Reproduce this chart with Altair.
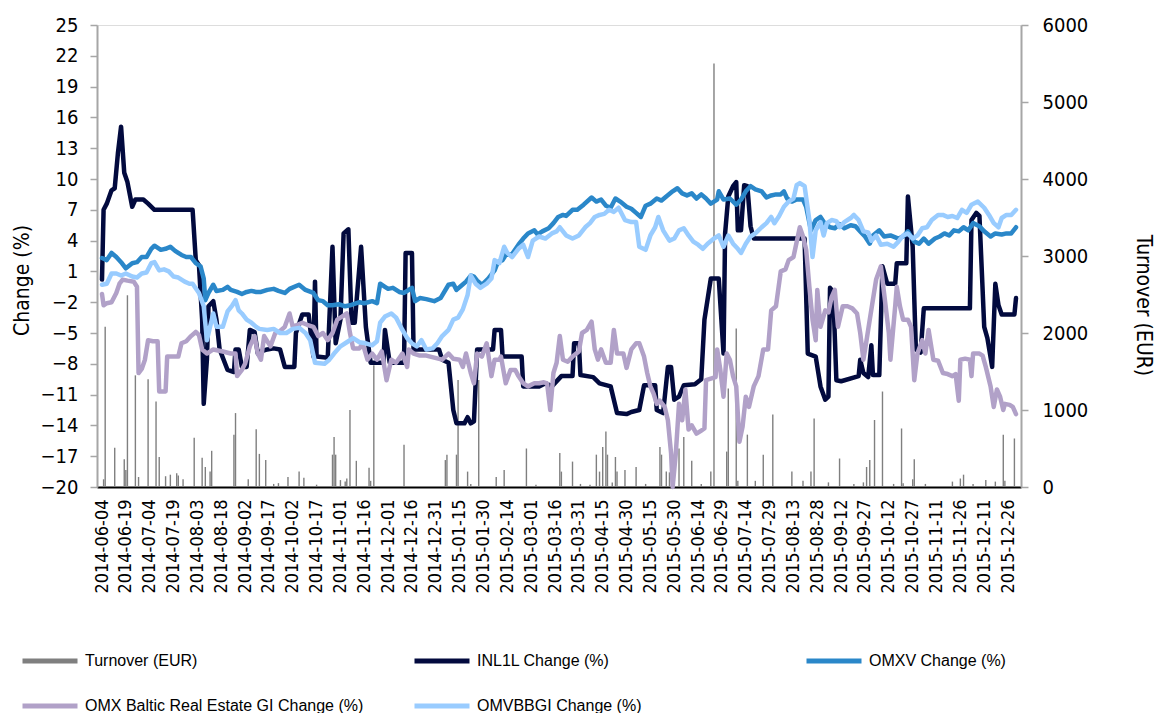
import altair as alt
import pandas as pd

START = "2014-06-04"
END = "2015-12-31"

tick_labels = [
    "2014-06-04", "2014-06-19", "2014-07-04", "2014-07-19", "2014-08-03", "2014-08-18",
    "2014-09-02", "2014-09-17", "2014-10-02", "2014-10-17", "2014-11-01", "2014-11-16",
    "2014-12-01", "2014-12-16", "2014-12-31", "2015-01-15", "2015-01-30", "2015-02-14",
    "2015-03-01", "2015-03-16", "2015-03-31", "2015-04-15", "2015-04-30", "2015-05-15",
    "2015-05-30", "2015-06-14", "2015-06-29", "2015-07-14", "2015-07-29", "2015-08-13",
    "2015-08-28", "2015-09-12", "2015-09-27", "2015-10-12", "2015-10-27", "2015-11-11",
    "2015-11-26", "2015-12-11", "2015-12-26",
]
left_ticks = [-20, -17, -14, -11, -8, -5, -2, 1, 4, 7, 10, 13, 16, 19, 22, 25]
right_ticks = [0, 1000, 2000, 3000, 4000, 5000, 6000]

S_TURN = "Turnover (EUR)"
S_INL = "INL1L Change (%)"
S_OMXV = "OMXV Change (%)"
S_RE = "OMX Baltic Real Estate GI Change (%)"
S_BB = "OMVBBGI Change (%)"

series_names = [S_TURN, S_INL, S_OMXV, S_RE, S_BB]
series_colors = ["#7f7f7f", "#020a3e", "#2a87c9", "#b1a1c8", "#99ccff"]

# (day since 2014-06-04, EUR)
turnover = [
    (1, 100), (2, 2080), (8, 510), (14, 360), (15, 220), (16, 2490), (21, 1450), (23, 130),
    (29, 1400), (34, 1110), (36, 390), (40, 140), (43, 160), (47, 180), (48, 150), (51, 100),
    (58, 640), (63, 380), (65, 260), (68, 200), (69, 470), (83, 680), (84, 960), (92, 100),
    (97, 750), (99, 430), (103, 350), (108, 40), (111, 50), (117, 130), (124, 200), (127, 120),
    (135, 30), (145, 420), (146, 650), (147, 420), (150, 90), (153, 70), (154, 110), (156, 1000),
    (160, 340), (168, 250), (169, 80), (171, 1580), (190, 550), (216, 350), (217, 420),
    (223, 420), (224, 1390), (230, 200), (232, 40), (237, 1390), (248, 130), (253, 220),
    (267, 500), (273, 30), (288, 440), (289, 200), (296, 330), (301, 40), (307, 30), (311, 420),
    (313, 200), (315, 520), (317, 720), (318, 420), (321, 60), (323, 390), (324, 200), (329, 220),
    (336, 260), (342, 40), (351, 520), (352, 420), (355, 200), (357, 190), (360, 60), (363, 500),
    (366, 650), (371, 340), (377, 40), (383, 200), (385, 5500), (393, 460), (394, 1280),
    (399, 2060), (400, 80), (406, 680), (411, 80), (416, 420), (422, 940), (434, 200), (441, 80),
    (446, 200), (448, 890), (457, 60), (464, 370), (473, 40), (479, 60), (481, 260), (483, 350),
    (486, 870), (491, 1240), (498, 40), (503, 760), (504, 50), (510, 100), (511, 360), (518, 40),
    (535, 70), (540, 110), (542, 160), (548, 40), (556, 90), (562, 70), (567, 680), (568, 80),
    (574, 630),
]

# (day since 2014-06-04, % change)
inl1l = [
    (0, 0.2), (1, 7.0), (3, 7.6), (6, 8.9), (8, 9.1), (10, 12.5), (12, 15.1), (14, 10.6),
    (16, 9.7), (19, 7.3), (21, 8.0), (26, 8.0), (29, 7.6), (33, 7.0), (57, 7.0), (59, 2.1),
    (61, 1.6), (63, -3.7), (64, -11.9), (66, -7.6), (67, -2.4), (70, -1.9), (72, -3.7),
    (74, -6.6), (79, -8.6), (83, -8.8), (84, -6.6), (86, -6.6), (88, -8.3), (91, -8.3),
    (93, -4.7), (96, -4.9), (98, -7.0), (100, -6.8), (104, -6.6), (108, -6.5), (112, -6.6),
    (115, -8.3), (121, -8.3), (122, -5.0), (126, -3.2), (130, -3.2), (133, -7.3), (134, 0.0),
    (135, -7.3), (142, -7.4), (145, 3.4), (147, -6.0), (150, -3.7), (152, 4.7), (155, 5.1),
    (157, -4.0), (159, -4.0), (163, 3.4), (166, -4.4), (169, -7.9), (177, -7.9), (178, -4.7),
    (181, -7.9), (190, -7.9), (191, 2.8), (195, 2.8), (196, -6.6), (212, -6.6), (214, -7.6),
    (218, -7.9), (221, -12.5), (223, -13.8), (228, -13.8), (230, -13.2), (232, -13.8),
    (234, -13.6), (236, -6.6), (246, -6.6), (247, -4.7), (251, -4.7), (252, -7.3), (264, -7.3),
    (265, -10.2), (275, -10.2), (279, -9.9), (283, -10.2), (289, -9.2), (296, -9.2), (297, -6.0),
    (300, -6.0), (301, -9.1), (309, -9.3), (313, -9.9), (320, -10.2), (324, -12.8), (330, -12.9),
    (333, -12.7), (338, -12.5), (341, -10.1), (348, -10.1), (349, -12.5), (353, -12.8),
    (356, -8.3), (358, -8.3), (360, -11.5), (363, -11.2), (366, -10.1), (373, -10.0),
    (377, -9.5), (379, -3.7), (383, 0.3), (388, 0.3), (391, -7.0), (392, 4.7), (394, 8.3),
    (397, 9.3), (399, 9.7), (400, 5.0), (402, 5.0), (404, 9.4), (406, 9.3), (408, 5.4),
    (410, 4.2), (442, 4.2), (444, -7.0), (449, -7.3), (452, -10.2), (455, -11.5), (457, -11.2),
    (458, -0.6), (460, -1.0), (462, -9.6), (465, -9.7), (476, -9.2), (477, -7.6), (479, -8.9),
    (482, -9.3), (484, -6.2), (485, -9.1), (489, -9.1), (491, 1.5), (494, -0.2), (499, -0.2),
    (500, 1.8), (506, 1.8), (507, 8.3), (510, 3.4), (512, -6.6), (515, -6.9), (517, -2.6),
    (546, -2.6), (547, 6.0), (550, 6.7), (552, 6.4), (555, -4.4), (557, -5.5), (560, -8.3),
    (562, -0.2), (564, -2.3), (566, -3.2), (574, -3.2), (575, -1.6),
]

omxv = [
    (0, 2.3), (3, 2.1), (6, 2.8), (9, 2.4), (12, 1.9), (15, 1.3), (19, 1.8), (22, 1.9),
    (25, 2.4), (28, 2.4), (31, 3.2), (33, 3.5), (37, 3.1), (40, 3.2), (43, 3.4), (46, 3.0),
    (50, 2.6), (53, 2.4), (56, 2.4), (59, 1.8), (62, 1.5), (64, 0.3), (65, -1.8), (67, -1.1),
    (70, -0.3), (72, -0.9), (76, -0.8), (79, -0.5), (81, -0.8), (85, -1.0), (88, -1.2),
    (91, -1.0), (94, -0.9), (97, -1.0), (100, -1.0), (104, -0.8), (108, -0.7), (111, -0.9),
    (115, -1.1), (118, -0.7), (124, -0.3), (128, -0.8), (133, -1.1), (136, -1.8), (139, -1.9),
    (142, -2.3), (145, -2.3), (149, -2.2), (153, -2.4), (156, -2.3), (162, -2.0), (165, -2.1),
    (170, -1.9), (173, -2.1), (175, -0.2), (178, -0.5), (180, -0.7), (183, -0.6), (187, -1.0),
    (190, -1.1), (193, -0.8), (195, -0.6), (197, -1.9), (200, -1.6), (204, -1.7), (209, -1.9),
    (213, -1.6), (218, -0.3), (221, -0.2), (223, -0.8), (226, -0.4), (229, 0.0), (232, 0.6),
    (234, 0.5), (236, 0.1), (239, -0.3), (243, 0.3), (247, 1.1), (249, 1.9), (252, 2.1),
    (254, 2.6), (258, 2.7), (262, 3.6), (265, 4.2), (268, 4.7), (272, 5.0), (274, 4.6),
    (277, 4.9), (281, 5.2), (284, 5.7), (287, 6.3), (290, 6.5), (292, 6.4), (296, 7.0),
    (299, 7.0), (303, 7.5), (308, 8.2), (311, 7.8), (314, 8.0), (317, 7.4), (320, 7.2),
    (323, 8.1), (326, 7.8), (330, 7.3), (333, 7.1), (336, 6.7), (339, 6.3), (342, 7.4),
    (345, 7.6), (349, 8.1), (352, 7.9), (355, 8.3), (359, 8.8), (362, 9.1), (365, 8.6),
    (368, 8.4), (371, 8.6), (374, 8.1), (377, 8.5), (380, 8.1), (383, 7.6), (387, 8.0),
    (388, 8.8), (391, 8.0), (395, 8.1), (399, 7.5), (402, 8.0), (405, 8.8), (408, 9.3),
    (411, 9.0), (415, 8.8), (418, 8.2), (421, 8.4), (424, 8.5), (427, 8.5), (429, 8.8),
    (431, 8.1), (434, 7.8), (437, 8.0), (441, 8.0), (443, 7.3), (446, 5.0), (449, 6.0),
    (452, 6.3), (455, 5.6), (458, 5.3), (461, 5.2), (464, 5.6), (467, 5.2), (471, 5.5),
    (474, 5.4), (477, 4.9), (480, 4.4), (483, 3.7), (485, 4.5), (489, 5.0), (492, 4.4),
    (496, 4.5), (501, 4.2), (504, 4.4), (507, 4.9), (511, 3.9), (514, 3.7), (517, 4.2),
    (520, 3.7), (524, 4.2), (527, 4.4), (530, 4.7), (533, 4.5), (536, 5.0), (539, 4.9),
    (542, 5.3), (545, 5.0), (548, 5.7), (552, 5.4), (555, 4.9), (559, 4.4), (562, 4.7),
    (566, 4.6), (569, 4.7), (572, 4.7), (575, 5.3),
]

baltic_re = [
    (0, -1.2), (1, -2.3), (3, -2.1), (6, -2.0), (9, -1.1), (11, -0.2), (13, 0.2), (16, 0.1),
    (20, 0.0), (22, -0.5), (23, -8.9), (25, -8.5), (27, -7.6), (29, -5.7), (32, -5.8),
    (35, -5.8), (36, -10.7), (40, -10.7), (41, -7.3), (44, -7.3), (48, -7.3), (50, -6.0),
    (53, -5.8), (56, -5.3), (59, -4.9), (61, -5.2), (63, -6.6), (66, -7.0), (70, -6.6),
    (76, -6.8), (81, -7.0), (84, -7.0), (85, -9.2), (88, -8.6), (90, -8.0), (93, -6.3),
    (96, -5.3), (98, -7.0), (100, -7.6), (102, -5.3), (106, -6.3), (109, -5.0), (112, -4.8),
    (115, -4.4), (118, -3.1), (120, -4.4), (123, -4.2), (126, -4.0), (129, -4.2), (133, -4.4),
    (136, -5.3), (139, -5.0), (142, -5.7), (145, -5.0), (148, -3.7), (151, -3.4), (154, -3.1),
    (156, -5.0), (158, -6.5), (162, -6.5), (164, -6.0), (167, -7.6), (170, -7.0), (173, -7.6),
    (176, -6.8), (179, -9.6), (182, -7.6), (185, -7.9), (189, -7.0), (192, -8.3), (193, -6.6),
    (196, -7.0), (200, -7.2), (204, -7.2), (209, -7.4), (214, -7.6), (218, -7.0), (221, -7.5),
    (225, -7.6), (227, -8.3), (229, -7.0), (232, -8.9), (234, -9.9), (236, -7.0), (239, -7.3),
    (242, -6.0), (245, -9.2), (247, -7.6), (250, -7.6), (251, -7.3), (254, -9.9), (257, -8.6),
    (260, -8.6), (262, -9.2), (265, -9.9), (268, -10.2), (272, -9.9), (275, -9.9), (278, -9.8),
    (280, -9.9), (282, -12.5), (284, -8.9), (286, -7.9), (288, -5.3), (290, -7.6), (293, -7.8),
    (296, -7.3), (300, -6.8), (302, -5.0), (305, -4.7), (308, -3.9), (310, -6.6), (312, -7.6),
    (314, -6.6), (317, -7.9), (320, -7.9), (322, -4.7), (324, -7.0), (328, -7.0), (330, -8.4),
    (333, -6.6), (336, -6.0), (338, -6.0), (341, -7.3), (343, -8.9), (345, -10.2), (347, -10.9),
    (349, -11.9), (351, -11.6), (354, -12.2), (356, -13.5), (358, -16.7), (359, -20.0),
    (361, -16.7), (363, -11.9), (365, -13.5), (367, -10.5), (369, -14.4), (371, -14.0),
    (374, -14.8), (377, -14.5), (379, -14.3), (380, -9.6), (384, -9.4), (386, -9.3), (387, -6.6),
    (389, -8.6), (391, -11.2), (393, -7.0), (395, -7.6), (397, -9.2), (399, -10.2), (401, -15.6),
    (403, -14.1), (405, -11.2), (407, -12.2), (410, -10.2), (413, -9.2), (416, -6.6), (419, -6.6),
    (421, -2.8), (424, -2.4), (427, 1.0), (430, 1.2), (432, 2.1), (435, 2.4), (439, 5.3),
    (441, 4.4), (443, 3.1), (445, -0.5), (447, -3.7), (449, -5.7), (450, -0.8), (452, -4.4),
    (455, -2.8), (457, -3.0), (459, -1.5), (461, -0.8), (463, -4.4), (466, -2.4), (469, -2.4),
    (472, -2.6), (475, -3.1), (477, -5.0), (479, -7.6), (481, -5.7), (483, -3.7), (487, 0.2),
    (490, 1.5), (492, -1.1), (495, -5.0), (496, -7.6), (499, -2.4), (500, -0.5), (502, -2.4),
    (504, -3.7), (507, -3.7), (509, -4.4), (511, -9.6), (513, -7.0), (516, -5.7), (518, -7.0),
    (520, -4.7), (523, -7.6), (526, -7.7), (529, -8.9), (532, -9.0), (535, -9.2), (537, -9.0),
    (539, -11.6), (540, -7.6), (543, -7.5), (546, -7.6), (547, -9.2), (548, -7.0), (552, -7.0),
    (554, -7.2), (556, -8.3), (559, -10.2), (561, -12.2), (563, -10.5), (565, -11.2),
    (567, -12.5), (568, -11.9), (571, -12.0), (573, -12.2), (575, -12.9),
]

omvbbgi = [
    (0, -0.3), (3, -0.2), (6, 0.8), (9, 0.8), (12, 0.6), (15, 0.8), (19, 0.5), (22, 0.4),
    (25, 0.8), (28, 0.9), (31, 1.8), (33, 1.9), (36, 1.1), (39, 1.2), (42, 1.0), (45, 0.5),
    (48, 0.4), (52, 0.0), (55, -0.2), (57, -0.2), (61, -1.1), (64, -2.4), (66, -5.7), (68, -4.4),
    (70, -3.1), (72, -4.4), (76, -4.4), (79, -2.9), (82, -2.3), (84, -1.8), (86, -2.8),
    (88, -3.1), (91, -3.7), (94, -4.0), (97, -4.4), (99, -4.6), (104, -4.7), (108, -4.6),
    (112, -5.0), (116, -5.0), (120, -4.6), (124, -4.5), (128, -5.0), (131, -5.7), (134, -7.9),
    (140, -8.0), (143, -7.6), (146, -7.0), (150, -6.3), (154, -5.9), (158, -5.5), (162, -5.9),
    (166, -6.0), (170, -6.2), (173, -5.8), (175, -4.0), (178, -3.4), (182, -3.1), (185, -3.5),
    (189, -4.7), (192, -5.5), (195, -6.0), (198, -6.3), (201, -5.7), (204, -6.6), (208, -6.5),
    (211, -6.0), (214, -5.3), (218, -4.7), (221, -3.7), (224, -3.5), (227, -2.7), (230, -1.3),
    (232, 0.6), (235, -0.2), (238, -0.6), (242, -0.2), (245, 0.3), (247, 2.1), (250, 1.8),
    (253, 3.4), (255, 2.8), (258, 2.4), (262, 3.2), (265, 3.6), (268, 2.4), (271, 4.0),
    (275, 4.4), (279, 4.2), (283, 4.7), (286, 4.9), (288, 5.3), (290, 4.9), (292, 4.5),
    (296, 4.2), (300, 4.5), (304, 5.3), (307, 5.7), (310, 6.3), (313, 6.5), (316, 6.6),
    (319, 7.0), (322, 6.8), (325, 7.2), (329, 6.0), (333, 5.8), (336, 5.8), (338, 3.4),
    (342, 3.1), (345, 4.5), (348, 5.3), (350, 6.3), (353, 5.0), (357, 4.0), (360, 4.2),
    (363, 5.0), (366, 5.2), (369, 4.5), (372, 3.9), (375, 3.6), (378, 3.2), (381, 3.7),
    (385, 4.2), (388, 4.5), (391, 3.4), (394, 4.5), (397, 3.7), (400, 3.2), (402, 2.8),
    (405, 3.7), (408, 4.4), (411, 4.7), (415, 5.3), (418, 5.7), (421, 6.3), (423, 5.7),
    (426, 6.4), (429, 7.3), (432, 7.8), (435, 8.1), (437, 9.4), (439, 9.6), (442, 9.3),
    (445, 6.0), (447, 2.4), (449, 5.0), (452, 5.8), (454, 4.5), (456, 5.7), (459, 6.0),
    (462, 5.9), (464, 5.3), (467, 5.8), (471, 6.2), (473, 6.5), (476, 6.0), (479, 4.9),
    (482, 4.8), (484, 4.0), (487, 4.5), (490, 3.6), (494, 3.7), (498, 3.4), (501, 3.9),
    (504, 4.5), (507, 4.7), (510, 4.2), (513, 4.5), (516, 5.2), (519, 5.3), (522, 6.0),
    (526, 6.5), (529, 6.5), (532, 6.3), (535, 6.4), (538, 6.2), (541, 7.0), (544, 6.7),
    (547, 7.5), (551, 7.8), (555, 7.2), (558, 6.5), (561, 5.7), (564, 5.3), (566, 6.2),
    (569, 6.5), (572, 6.5), (575, 7.0),
]

# ---------------------------------------------------------------------------
start_ts = pd.Timestamp(START)


def to_date(d):
    return (start_ts + pd.Timedelta(days=int(d))).strftime("%Y-%m-%d")


def ms(s):
    return int(pd.Timestamp(s, tz="UTC").value // 10**6)


frames = []
for name, pts in [(S_INL, inl1l), (S_OMXV, omxv), (S_RE, baltic_re), (S_BB, omvbbgi)]:
    df = pd.DataFrame(pts, columns=["day", "value"])
    df["date"] = df["day"].map(to_date)
    df["series"] = name
    frames.append(df)
lines_df = pd.concat(frames, ignore_index=True)

bars_df = pd.DataFrame(turnover, columns=["day", "turnover"])
bars_df["date"] = bars_df["day"].map(to_date)
bars_df["series"] = S_TURN

TICK_FONT = "DejaVu Sans Condensed, DejaVu Sans, sans-serif"
LEG_FONT = "Liberation Sans Narrow, Arial Narrow, Liberation Sans, sans-serif"

x_enc = alt.X(
    "date:T",
    scale=alt.Scale(type="utc", domain=[ms(START), ms(END)], nice=False),
    axis=alt.Axis(
        values=[ms(t) for t in tick_labels],
        labelExpr="utcFormat(datum.value, '%Y-%m-%d')",
        labelAngle=-90,
        labelOverlap=False,
        ticks=False,
        labelPadding=12,
        labelFont=TICK_FONT,
        labelFontSize=18,
        labelColor="#000000",
        domainColor="#000000",
        domainWidth=2,
        grid=False,
        title=None,
    ),
)

color_enc = alt.Color(
    "series:N",
    scale=alt.Scale(domain=series_names, range=series_colors),
    legend=alt.Legend(
        title=None,
        orient="none",
        legendX=-77,
        legendY=606,
        direction="horizontal",
        columns=3,
        gridAlign="all",
        columnPadding=40,
        rowPadding=5,
        symbolType="stroke",
        symbolSize=3025,
        symbolStrokeWidth=5,
        labelFont=LEG_FONT,
        labelFontSize=16,
        labelOffset=5,
        labelLimit=500,
        labelColor="#000000",
    ),
)

bars = alt.Chart(bars_df).mark_bar(size=1.4).encode(
    x=x_enc,
    y=alt.Y(
        "turnover:Q",
        scale=alt.Scale(domain=[0, 6000], nice=False, zero=True),
        axis=alt.Axis(
            orient="right",
            values=right_ticks,
            format="d",
            title="Turnover (EUR)",
            titleAngle=90,
            titleX=121,
            titleY=280,
            titleAlign="center",
            titleBaseline="middle",
            titleFont=TICK_FONT,
            titleFontSize=21,
            titleFontWeight="normal",
            titleColor="#000000",
            labelFont=TICK_FONT,
            labelFontSize=20,
            labelColor="#000000",
            labelPadding=14,
            tickSize=7,
            tickColor="#a6a6a6",
            tickWidth=1.5,
            domainColor="#a6a6a6",
            domainWidth=2,
            grid=False,
        ),
    ),
    color=color_enc,
)

y_left = alt.Y(
    "value:Q",
    scale=alt.Scale(domain=[-20, 25], nice=False, zero=False),
    axis=alt.Axis(
        orient="left",
        values=left_ticks,
        title="Change (%)",
        titleAngle=-90,
        titleX=-75,
        titleY=255,
        titleAlign="center",
        titleBaseline="middle",
        titleFont=TICK_FONT,
        titleFontSize=21,
        titleFontWeight="normal",
        titleColor="#000000",
        labelFont=TICK_FONT,
        labelFontSize=20,
        labelColor="#000000",
        labelPadding=12,
        tickSize=7,
        tickColor="#a6a6a6",
        tickWidth=1.5,
        domainColor="#a6a6a6",
        domainWidth=2,
        grid=False,
    ),
)

line_layers = []
for name in [S_INL, S_OMXV, S_RE, S_BB]:
    line_layers.append(
        alt.Chart(lines_df)
        .transform_filter(alt.datum.series == name)
        .mark_line(strokeWidth=4.5, strokeJoin="round", strokeCap="round")
        .encode(x=x_enc, y=y_left, color=color_enc)
    )
lines = alt.layer(*line_layers)

chart = (
    alt.layer(bars, lines)
    .resolve_scale(y="independent")
    .properties(
        width=924,
        height=462,
        padding={"left": 89, "top": 17, "right": 133, "bottom": 234},
        autosize=alt.AutoSizeParams(type="none"),
    )
    .configure_view(stroke="#a6a6a6", strokeWidth=2)
    .configure(background="#ffffff")
)

chart.save("out.html", embed_options={"renderer": "svg", "actions": False})
